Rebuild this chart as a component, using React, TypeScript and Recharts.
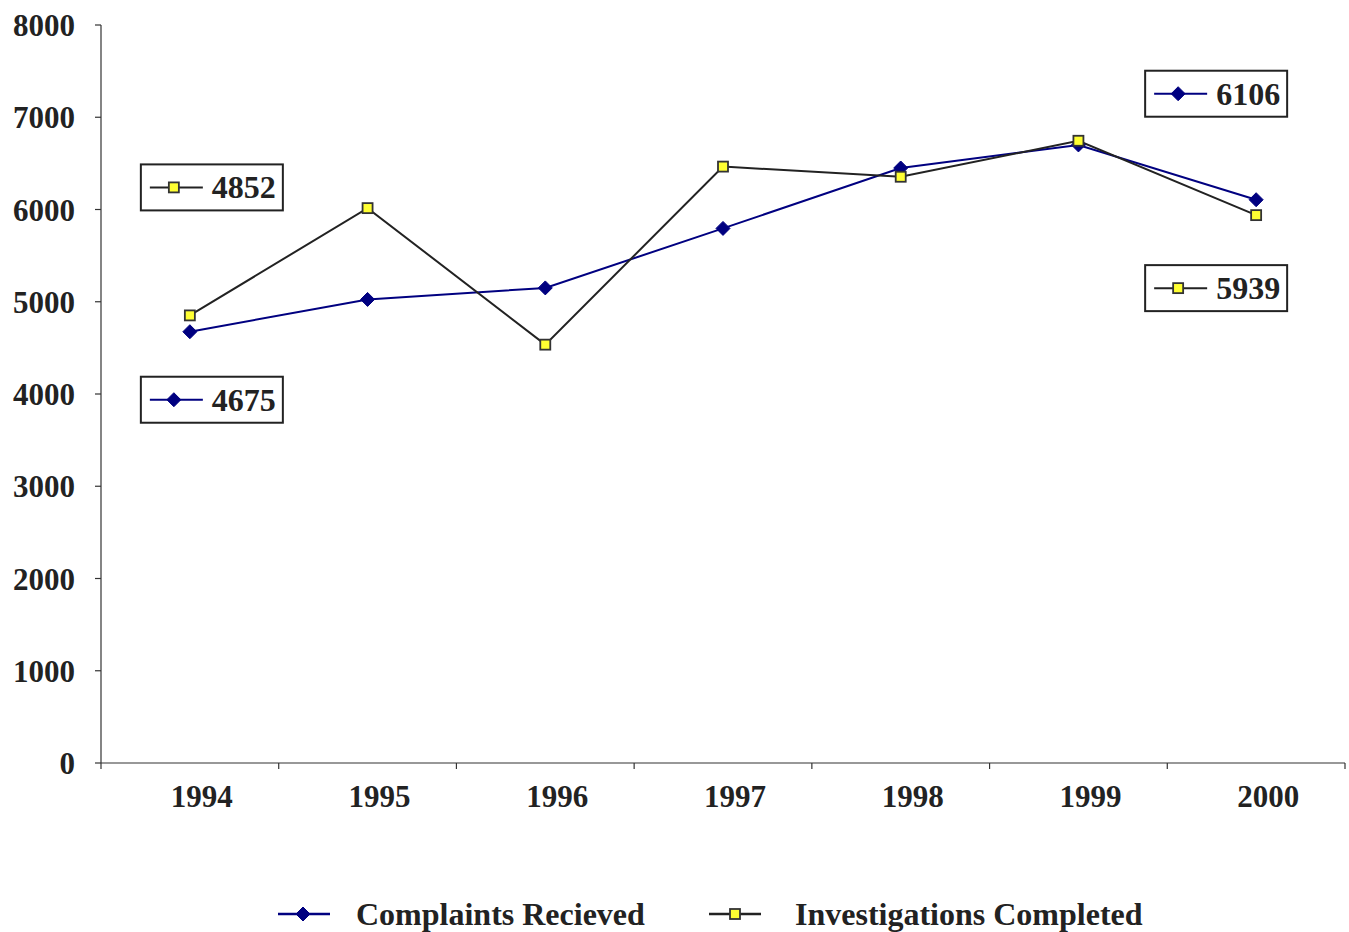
import { LineChart, Line, XAxis, YAxis, LabelList } from 'recharts'

const years = ['1994', '1995', '1996', '1997', '1998', '1999', '2000']
const complaints = [4675, 5025, 5150, 5795, 6450, 6700, 6106]
const investigations = [4852, 6015, 4535, 6465, 6355, 6745, 5939]
const yTicks = [0, 1000, 2000, 3000, 4000, 5000, 6000, 7000, 8000]
const seriesNames = ['Complaints Recieved', 'Investigations Completed']

const data = years.map((year, i) => ({
  year,
  complaints: complaints[i],
  investigations: investigations[i],
}))

const W = 1349
const H = 932
const MARGIN = { top: 25, right: 4, left: 0, bottom: 0 }
const Y_AXIS_W = 101
const STEP = (W - MARGIN.left - MARGIN.right - Y_AXIS_W) / years.length

const FONT = '"Liberation Serif", "Times New Roman", serif'
const NAVY = '#000080'
const DARK = '#222222'
const YELLOW = '#ffff33'

function Diamond({ cx, cy, r = 7 }: { cx: number; cy: number; r?: number }) {
  return (
    <polygon
      points={`${cx},${cy - r} ${cx + r},${cy} ${cx},${cy + r} ${cx - r},${cy}`}
      fill={NAVY}
      stroke={NAVY}
      strokeWidth={1}
    />
  )
}

function Square({ cx, cy, s = 10 }: { cx: number; cy: number; s?: number }) {
  return (
    <rect x={cx - s / 2} y={cy - s / 2} width={s} height={s} fill={YELLOW} stroke="#333" strokeWidth={1.8} />
  )
}

// boxed callout for first / last value, placed relative to its point
function callout(kind: 'diamond' | 'square', offsets: Record<number, [number, number]>) {
  return (props: any) => {
    const { x, y, value, index } = props
    const off = offsets[index]
    if (!off) return null
    const cx = x + off[0]
    const cy = y + off[1]
    const bx = cx - 71
    const by = cy - 23
    return (
      <g>
        <rect x={bx} y={by} width={142} height={46} fill="#fff" stroke={DARK} strokeWidth={2} />
        <line x1={bx + 9} x2={bx + 62} y1={cy} y2={cy} stroke={kind === 'diamond' ? NAVY : DARK} strokeWidth={2} />
        {kind === 'diamond' ? <Diamond cx={bx + 33} cy={cy} /> : <Square cx={bx + 33} cy={cy} />}
        <text x={bx + 71} y={cy + 11} fontFamily={FONT} fontWeight="bold" fontSize={32} fill={DARK}>
          {value}
        </text>
      </g>
    )
  }
}

function YearTick(props: any) {
  const { x, y, payload, index } = props
  return (
    <g>
      <line x1={x - STEP / 2} x2={x - STEP / 2} y1={y} y2={y + 6} stroke="#333" strokeWidth={1.2} />
      {index === years.length - 1 && (
        <line x1={x + STEP / 2} x2={x + STEP / 2} y1={y} y2={y + 6} stroke="#333" strokeWidth={1.2} />
      )}
      <text x={x + 12} y={y + 44} textAnchor="middle" fontFamily={FONT} fontWeight="bold" fontSize={31} fill={DARK}>
        {payload.value}
      </text>
    </g>
  )
}

function ChartLegend() {
  return (
    <div style={{ position: 'relative', height: 35, width: W }}>
      <svg width={W} height={35} style={{ position: 'absolute', left: 0, top: 0 }}>
        <line x1={278} x2={330} y1={17} y2={17} stroke={NAVY} strokeWidth={2.5} />
        <Diamond cx={303} cy={17} />
        <line x1={709} x2={761} y1={17} y2={17} stroke={DARK} strokeWidth={2.5} />
        <Square cx={735} cy={17} />
        <text x={356} y={28} fontFamily={FONT} fontWeight="bold" fontSize={32} fill={DARK}>{seriesNames[0]}</text>
        <text x={795} y={28} fontFamily={FONT} fontWeight="bold" fontSize={32} fill={DARK}>{seriesNames[1]}</text>
      </svg>
    </div>
  )
}

export default function App() {
  return (
    <div style={{ position: 'absolute', left: 0, top: 0, background: '#fff' }}>
      <LineChart width={W} height={H - 35} data={data} margin={MARGIN}>
        <XAxis
          dataKey="year"
          height={134}
          padding={{ left: STEP / 2, right: STEP / 2 }}
          axisLine={{ stroke: '#333', strokeWidth: 1.2 }}
          tickLine={false}
          tickSize={0}
          tickMargin={0}
          interval={0}
          tick={<YearTick />}
        />
        <YAxis
          domain={[0, 8000]}
          ticks={yTicks}
          width={Y_AXIS_W}
          axisLine={{ stroke: '#333', strokeWidth: 1.2 }}
          tickLine={{ stroke: '#333', strokeWidth: 1.2 }}
          tickSize={6}
          tickMargin={20}
          tick={{ fontFamily: FONT, fontWeight: 'bold', fontSize: 31, fill: DARK }}
        />
        <Line
          dataKey="complaints"
          name={seriesNames[0]}
          stroke={NAVY}
          strokeWidth={2}
          isAnimationActive={false}
          dot={(p: any) => <Diamond key={`d${p.index}`} cx={p.cx} cy={p.cy} />}
          activeDot={false}
        >
          <LabelList dataKey="complaints" content={callout('diamond', { 0: [22, 68], 6: [-40, -106] })} />
        </Line>
        <Line
          dataKey="investigations"
          name={seriesNames[1]}
          stroke={DARK}
          strokeWidth={2}
          isAnimationActive={false}
          dot={(p: any) => <Square key={`s${p.index}`} cx={p.cx} cy={p.cy} />}
          activeDot={false}
        >
          <LabelList dataKey="investigations" content={callout('square', { 0: [22, -128], 6: [-40, 73] })} />
        </Line>
      </LineChart>
      <ChartLegend />
    </div>
  )
}
